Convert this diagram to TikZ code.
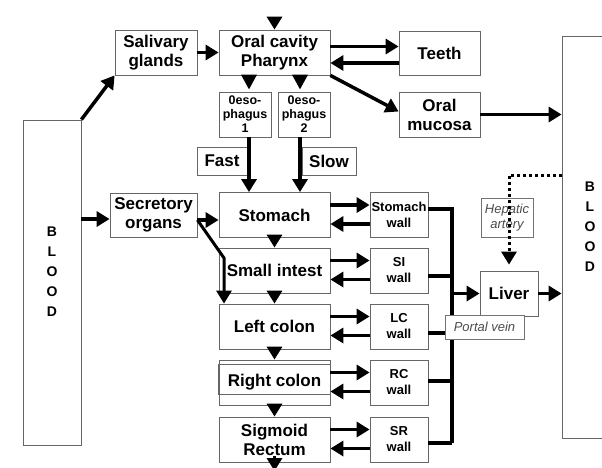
\documentclass[tikz,border=0pt]{standalone}
\usepackage{fontspec}
\setmainfont{Liberation Sans}
\usepackage{tikz}
\usetikzlibrary{arrows.meta,calc}

\tikzset{
	organ/.style={draw=black!60, line width=0.8pt, fill=white, align=center, inner sep=0pt, minimum height=45pt, font=\bfseries\fontsize{17}{19}\selectfont},
	wall/.style={organ, minimum width=58pt, font=\bfseries\fontsize{13}{16}\selectfont},
	oeso/.style={organ, minimum width=52pt, font=\bfseries\fontsize{12.5}{14}\selectfont},
	note/.style={draw=black!55, line width=0.8pt, fill=white, align=center, inner sep=0pt, text=black!70, font=\itshape\fontsize{13}{15}\selectfont},
	letters/.style={align=center, inner sep=0pt, font=\bfseries\fontsize{14}{20}\selectfont},
	flow/.style={line width=3.5pt, -{Triangle[length=13pt,width=15pt]}},
	wire/.style={line width=3.5pt},
	dotflow/.style={line width=3pt, dash pattern=on 3pt off 3pt, -{Triangle[length=13pt,width=15pt]}}
}

\begin{document}
\begin{tikzpicture}[x=1pt,y=-1pt]
		\useasboundingbox (0,0) rectangle (602,467);
		\node [organ, minimum width=82pt](saliv) at (156,52.5) {Salivary\\glands};
		\node [organ, minimum width=111pt](oral) at (274.5,52.5) {Oral cavity\\Pharynx};
		\node [organ, minimum width=81pt, minimum height=44pt](teeth) at (439.5,53) {Teeth};
		\node [organ, minimum width=81pt](mucosa) at (439.5,114.5) {Oral\\mucosa};
		\node [oeso](oes1) at (245,114.5) {0eso-\\phagus\\1};
		\node [oeso](oes2) at (304,114.5) {0eso-\\phagus\\2};
		\node [organ, minimum width=50pt, minimum height=28pt](fast) at (222,161) {Fast};
		\node [organ, minimum width=54pt, minimum height=28pt](slow) at (329,161) {Slow};
		\node [organ, minimum width=58pt, minimum height=325pt](bloodL) at (52,282.5) {};
		\node [letters](bloodLtxt) at (52,272) {B\\L\\O\\O\\D};
		\node [organ, minimum width=56pt, minimum height=402pt](bloodR) at (590,237) {};
		\node [letters](bloodRtxt) at (590,227) {B\\L\\O\\O\\D};
		\node [organ, minimum width=87pt, minimum height=44pt](secret) at (153.5,215) {Secretory\\organs};
		\node [organ, minimum width=111pt](stomach) at (274.5,215) {Stomach};
		\node [organ, minimum width=111pt](smint) at (274.5,270.5) {Small intest};
		\node [organ, minimum width=111pt](lcolon) at (274.5,326.5) {Left colon};
		\node [organ, minimum width=111pt](rcolon) at (274.5,382.5) {Right colon};
		\draw [draw=black!60, line width=0.8pt] ([yshift=-5pt]rcolon.north west) rectangle ([yshift=11pt]rcolon.south east);
		\node [organ, minimum width=111pt](sigmoid) at (274.5,439.5) {Sigmoid\\Rectum};
		\node [wall](stwall) at (399,215) {Stomach\\wall};
		\node [wall](siwall) at (399,270.5) {SI\\wall};
		\node [wall](lcwall) at (399,326.5) {LC\\wall};
		\node [wall](rcwall) at (399,382.5) {RC\\wall};
		\node [wall](srwall) at (399,439.5) {SR\\wall};
		\node [organ, minimum width=58pt](liver) at (509,293.5) {Liver};
		\node [note, minimum width=52pt, minimum height=39pt](hepatic) at (507,217.5) {Hepatic\\artery};
		% mouth and oesophagus
		\coordinate (food) at (274.5,17);
		\coordinate (f1) at (249,0);
		\coordinate (f2) at (300,0);
		\draw [flow] (food) -- (oral.north);
		\draw [flow] (bloodL.north east) -- (saliv.south west);
		\draw [flow] (saliv) -- (oral);
		\coordinate (tin) at ([yshift=6pt]oral.east);
		\coordinate (tout) at ([yshift=-10pt]teeth.west);
		\draw [flow] (tin) -- (tin -| teeth.west);
		\draw [flow] (tout) -- (tout -| oral.east);
		\draw [flow] (oral.south east) -- ([yshift=3pt]mucosa.west);
		\draw [flow] (mucosa.east) -- (mucosa.east -| bloodR.west);
		\draw [flow, -{Triangle[length=15pt,width=15pt]}, shorten >=2pt] (oral.south -| f1) -- (oes1.north -| f1);
		\draw [flow, -{Triangle[length=15pt,width=15pt]}, shorten >=2pt] (oral.south -| f2) -- (oes2.north -| f2);
		\draw [flow] (oes1.south -| f1) -- (stomach.north -| f1);
		\draw [flow] (oes2.south -| f2) -- (stomach.north -| f2);
		% secretions
		\coordinate (secin) at ([yshift=-4pt]secret.west);
		\coordinate (secout) at ([yshift=-5pt]secret.east);
		\coordinate (bend) at (224,258);
		\draw [flow] (secin -| bloodL.east) -- (secin);
		\draw [flow] (secout) -- (secout -| stomach.west);
		\draw [flow, line width=3pt] (secout) -- (bend) -- (bend |- lcolon.north);
		% gut and walls
		\foreach \a/\b in {stomach/smint, smint/lcolon, lcolon/rcolon, rcolon/sigmoid}
			\draw [flow] (\a.south) -- (\b.north);
		\coordinate (faeces) at (274.5,471);
		\draw [flow] ([yshift=6pt]sigmoid.south) -- (faeces);
		\foreach \g/\w in {stomach/stwall, smint/siwall, lcolon/lcwall, rcolon/rcwall, sigmoid/srwall}{
			\draw [flow] ([yshift=10pt]\g.east) -- ([yshift=10pt]\w.west);
			\draw [flow] ([yshift=-9pt]\w.west) -- ([yshift=-9pt]\g.east);
		}
		% portal system
		\coordinate (bus) at (452,0);
		\coordinate (stout) at ([yshift=6pt]stwall.east);
		\coordinate (siout) at ([yshift=-5.5pt]siwall.east);
		\coordinate (lcout) at ([yshift=-6.5pt]lcwall.east);
		\coordinate (rcout) at ([yshift=1.5pt]rcwall.east);
		\coordinate (srout) at ([yshift=-3.5pt]srwall.east);
		\draw [wire] (stout) -| (srout -| bus);
		\foreach \o in {siout, lcout, rcout, srout}
			\draw [wire] (\o) -- (\o -| bus);
		\draw [flow] (liver.west -| bus) -- (liver.west);
		\draw [flow] (liver.east) -- (liver.east -| bloodR.west);
		\coordinate (hep) at (509,175);
		\draw [dotflow, shorten >=6pt] (bloodR.west |- hep) -- (hep) -- (hep |- liver.north);
		\node [note, minimum width=79pt, minimum height=24pt](portal) at (484.5,327) {Portal vein};
\end{tikzpicture}
\end{document}
